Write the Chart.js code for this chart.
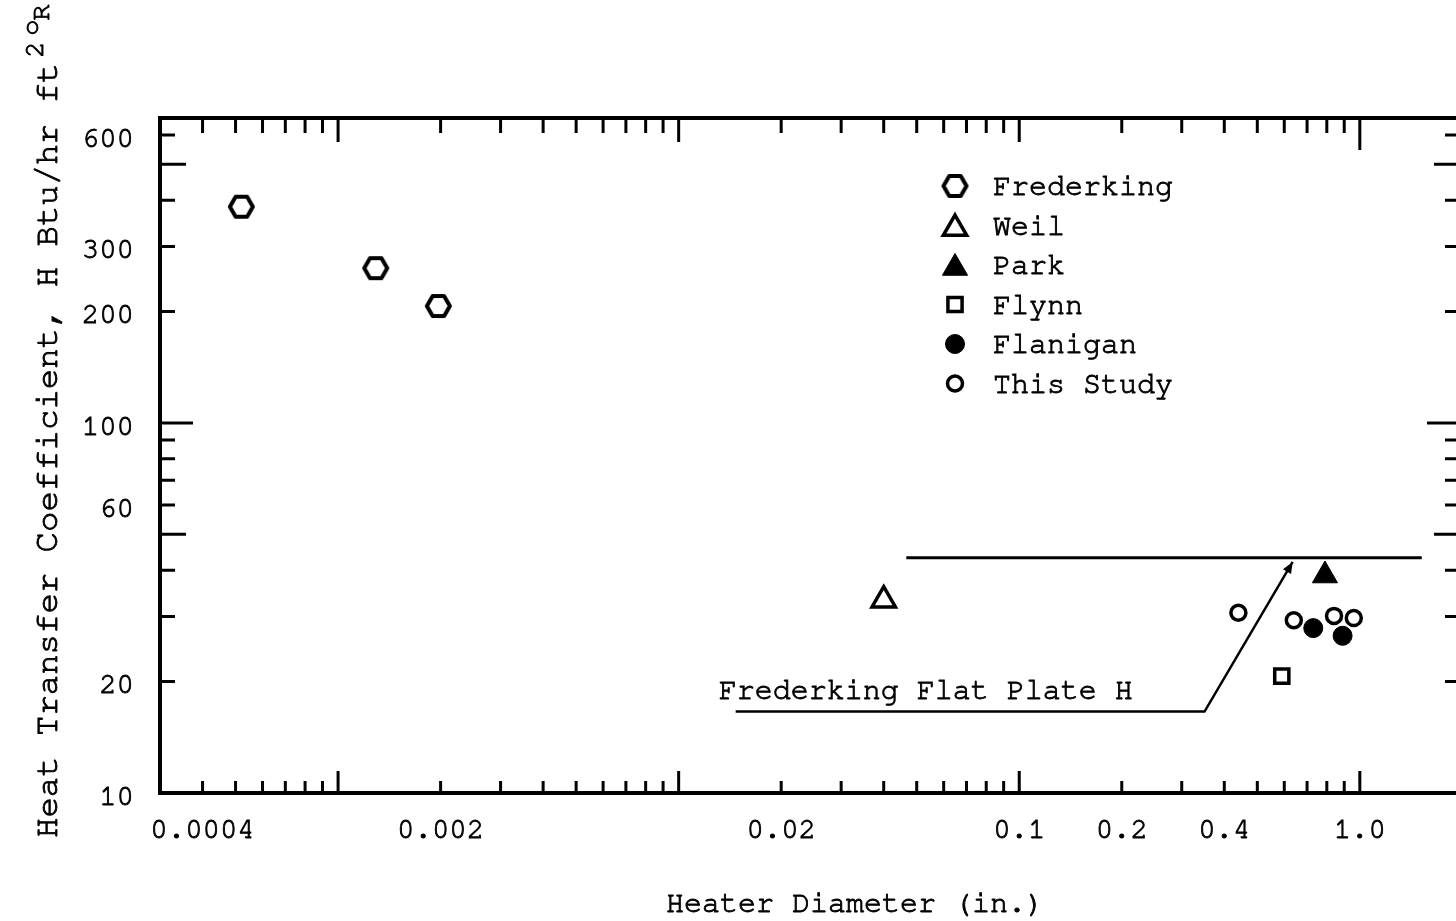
<!DOCTYPE html>
<html lang="en">
<head>
<meta charset="UTF-8">
<title>Heat Transfer Coefficient vs Heater Diameter</title>
<script src="https://cdn.jsdelivr.net/npm/chart.js"></script>
<style>
  html, body { margin: 0; padding: 0; background: #fff; overflow: hidden; }
  canvas { display: block; }
</style>
</head>
<body>
<canvas id="hChart" width="1456" height="921"></canvas>
<script>
// H (Btu/hr ft2 oR) against heater diameter (in.), one pair of arrays per source
const fredD = [0.00052, 0.00129, 0.00197];
const fredH = [384, 262, 207];
const weilD = [0.040];
const weilH = [33.2];
const parkD = [0.79];
const parkH = [38.7];
const flynnD = [0.59];
const flynnH = [20.7];
const flaniganD = [0.73, 0.89];
const flaniganH = [27.9, 26.6];
const studyD = [0.44, 0.64, 0.84, 0.96];
const studyH = [30.7, 29.3, 30.1, 29.7];

// Frederking flat plate value
const flatD = [0.0466, 1.52];
const flatH = [43.2, 43.2];

// leader for the flat plate note: start, bend, arrow tip
const noteText = 'Frederking Flat Plate H';
const noteD = [0.0147, 0.35, 0.635];
const noteH = [16.6, 16.6, 42.1];

const xTickValues = [0.0004, 0.002, 0.02, 0.1, 0.2, 0.4, 1.0];
const xTickLabels = ['0.0004', '0.002', '0.02', '0.1', '0.2', '0.4', '1.0'];
const yTickValues = [600, 300, 200, 100, 60, 20, 10];
const yTickLabels = ['600', '300', '200', '100', '60', '20', '10'];
const yLongTicks = [50, 100, 500];

const MONO = '"Nimbus Mono PS", "Nimbus Mono L", "FreeMono", "Courier New", Courier, "Liberation Mono", monospace';
const INK = '#000';

const pairs = (xs, ys) => xs.map((x, i) => ({ x: x, y: ys[i] }));

// typewriter text is heavier than the plain face, so give it a thin outline too
function ink(ctx, text, x, y) {
  ctx.fillText(text, x, y);
  ctx.strokeText(text, x, y);
}

// hexagon marker (no built-in point style for it)
function makeHexagon(rx, ry, lw) {
  const c = document.createElement('canvas');
  c.width = Math.ceil(2 * rx + lw + 2);
  c.height = Math.ceil(2 * ry + lw + 2);
  const g = c.getContext('2d');
  const cx = c.width / 2, cy = c.height / 2;
  g.lineWidth = lw;
  g.strokeStyle = INK;
  g.fillStyle = '#fff';
  g.lineJoin = 'round';
  g.beginPath();
  g.moveTo(cx - rx, cy);
  g.lineTo(cx - rx / 2, cy - ry);
  g.lineTo(cx + rx / 2, cy - ry);
  g.lineTo(cx + rx, cy);
  g.lineTo(cx + rx / 2, cy + ry);
  g.lineTo(cx - rx / 2, cy + ry);
  g.closePath();
  g.fill();
  g.stroke();
  return c;
}
const hexagon = makeHexagon(11.5, 10, 4);

const datasets = [
  { label: 'Frederking', data: pairs(fredD, fredH), pointStyle: hexagon, pointRadius: 12,
    backgroundColor: '#fff', borderColor: INK, borderWidth: 4 },
  { label: 'Weil', data: pairs(weilD, weilH), pointStyle: 'triangle', pointRadius: 13.5,
    backgroundColor: '#fff', borderColor: INK, borderWidth: 3.5 },
  { label: 'Park', data: pairs(parkD, parkH), pointStyle: 'triangle', pointRadius: 14.5,
    backgroundColor: INK, borderColor: INK, borderWidth: 1 },
  { label: 'Flynn', data: pairs(flynnD, flynnH), pointStyle: 'rect', pointRadius: 10,
    backgroundColor: '#fff', borderColor: INK, borderWidth: 3.5 },
  { label: 'Flanigan', data: pairs(flaniganD, flaniganH), pointStyle: 'circle', pointRadius: 9.5,
    backgroundColor: INK, borderColor: INK, borderWidth: 1 },
  { label: 'This Study', data: pairs(studyD, studyH), pointStyle: 'circle', pointRadius: 7.5,
    backgroundColor: '#fff', borderColor: INK, borderWidth: 3.5 },
  { label: 'Flat plate', type: 'line', data: pairs(flatD, flatH), showLine: true, pointRadius: 0,
    borderColor: INK, borderWidth: 3, fill: false, inLegend: false }
];

// decade tick values m * 10^k inside [lo, hi]
function logTicks(lo, hi) {
  const out = [];
  for (let k = Math.floor(Math.log10(lo)); k <= Math.ceil(Math.log10(hi)); k++) {
    for (let m = 1; m <= 9; m++) {
      const v = +(m * Math.pow(10, k)).toPrecision(3);
      if (v > lo * 1.001 && v < hi * 0.999) out.push({ v: v, major: m === 1 });
    }
  }
  return out;
}

const frame = {
  id: 'frame',
  afterDatasetsDraw(chart) {
    const { ctx, chartArea: a, scales: { x, y } } = chart;
    ctx.save();
    ctx.strokeStyle = INK;
    ctx.fillStyle = INK;
    ctx.lineCap = 'butt';

    // box; the right-hand edge sits just past the canvas
    ctx.lineWidth = 4;
    ctx.beginPath();
    ctx.moveTo(a.right, a.top); ctx.lineTo(a.left, a.top);
    ctx.lineTo(a.left, a.bottom); ctx.lineTo(a.right, a.bottom);
    ctx.stroke();

    // x ticks, bottom and top, pointing inward
    ctx.lineWidth = 3;
    logTicks(0.00035, x.max).forEach(t => {
      const px = x.getPixelForValue(t.v);
      ctx.beginPath();
      ctx.moveTo(px, a.bottom); ctx.lineTo(px, a.bottom - (t.major ? 22 : 12));
      ctx.moveTo(px, a.top); ctx.lineTo(px, a.top + (t.major ? (t.v === 1 ? 32 : 24) : 15));
      ctx.stroke();
    });

    // y ticks, left and right
    logTicks(y.min, y.max).forEach(t => {
      const py = y.getPixelForValue(t.v);
      const long = yLongTicks.includes(t.v);
      const len = t.v === 100 ? 33 : (long ? 26 : 15);
      ctx.beginPath();
      ctx.moveTo(a.left, py); ctx.lineTo(a.left + len, py);
      ctx.moveTo(a.right, py); ctx.lineTo(a.right - len + 4, py);
      ctx.stroke();
    });

    ctx.lineWidth = 0.9;

    // tick labels
    ctx.font = '29px ' + MONO;
    ctx.textAlign = 'center';
    ctx.textBaseline = 'middle';
    xTickValues.forEach((v, i) => ink(ctx, xTickLabels[i], x.getPixelForValue(v), a.bottom + 36));
    ctx.textAlign = 'right';
    yTickValues.forEach((v, i) => ink(ctx, yTickLabels[i], a.left - 26, y.getPixelForValue(v) + 3));

    // axis titles
    ctx.font = '30px ' + MONO;
    ctx.textAlign = 'center';
    ctx.textBaseline = 'alphabetic';
    ink(ctx, 'Heater Diameter (in.)', 855, 912);

    ctx.save();
    ctx.translate(57, 838);
    ctx.rotate(-Math.PI / 2);
    ctx.textAlign = 'left';
    ctx.font = '34px ' + MONO;
    const main = 'Heat Transfer Coefficient, H Btu/hr ft';
    ink(ctx, main, 0, 0);
    const w = ctx.measureText(main).width;
    ctx.font = '27px ' + MONO;
    ink(ctx, '2', w + 5, -14);
    ink(ctx, 'o', w + 27, -19);
    ink(ctx, 'R', w + 42, -8);
    ctx.restore();

    // flat plate note with leader and arrow
    const p = noteD.map((d, i) => [x.getPixelForValue(d), y.getPixelForValue(noteH[i])]);
    ctx.lineWidth = 2.5;
    ctx.beginPath();
    ctx.moveTo(p[0][0], p[0][1]);
    ctx.lineTo(p[1][0], p[1][1]);
    ctx.lineTo(p[2][0], p[2][1]);
    ctx.stroke();
    const ang = Math.atan2(p[2][1] - p[1][1], p[2][0] - p[1][0]);
    ctx.beginPath();
    ctx.moveTo(p[2][0], p[2][1]);
    ctx.lineTo(p[2][0] - 12 * Math.cos(ang - 0.4), p[2][1] - 12 * Math.sin(ang - 0.4));
    ctx.lineTo(p[2][0] - 12 * Math.cos(ang + 0.4), p[2][1] - 12 * Math.sin(ang + 0.4));
    ctx.closePath();
    ctx.fill();
    ctx.lineWidth = 0.9;
    ctx.font = '30px ' + MONO;
    ctx.textAlign = 'left';
    ink(ctx, noteText, p[0][0] - 17, p[0][1] - 13);

    // legend
    const draw = Chart.helpers && Chart.helpers.drawPoint;
    let row = 0;
    chart.data.datasets.forEach(ds => {
      if (ds.inLegend === false) return;
      const ly = 186 + row * 39.5;
      ctx.fillStyle = ds.backgroundColor;
      ctx.strokeStyle = ds.borderColor;
      ctx.lineWidth = ds.borderWidth;
      if (draw) draw(ctx, { pointStyle: ds.pointStyle, radius: ds.pointRadius, rotation: 0, borderWidth: ds.borderWidth },
        955, ly + (ds.pointStyle === 'triangle' ? 3 : 0));
      ctx.fillStyle = INK;
      ctx.strokeStyle = INK;
      ctx.lineWidth = 0.9;
      ctx.font = '30px ' + MONO;
      ctx.textAlign = 'left';
      ctx.textBaseline = 'middle';
      ink(ctx, ds.label, 993, ly);
      row++;
    });
    ctx.restore();
  }
};

new Chart(document.getElementById('hChart'), {
  type: 'scatter',
  data: { datasets: datasets },
  options: {
    responsive: false,
    animation: false,
    layout: { autoPadding: false, padding: { left: 160, top: 118, right: 0, bottom: 128 } },
    scales: {
      x: { type: 'logarithmic', min: 0.0003, max: 1.916, display: false },
      y: { type: 'logarithmic', min: 10, max: 667, display: false }
    },
    plugins: { legend: { display: false }, tooltip: { enabled: false } }
  },
  plugins: [frame]
});
</script>
</body>
</html>
